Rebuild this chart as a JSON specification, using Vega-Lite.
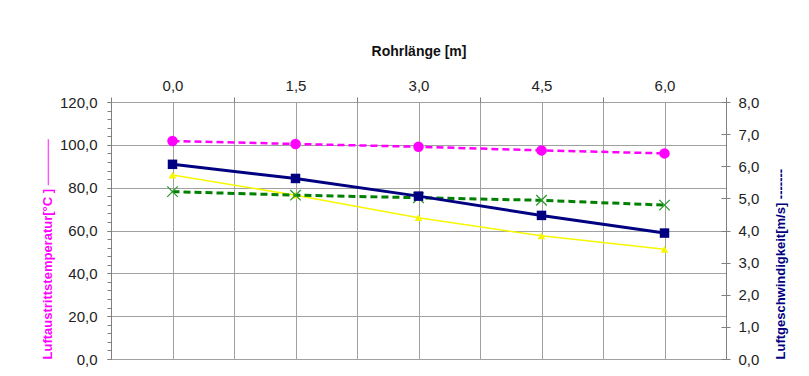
{
  "$schema": "https://vega.github.io/schema/vega-lite/v6.json",
  "autosize": {"type": "none"},
  "width": 615,
  "height": 257,
  "padding": {"left": 111, "top": 102, "right": 83, "bottom": 17},
  "background": "white",
  "config": {
    "font": "Liberation Sans",
    "view": {"stroke": null},
    "locale": {"number": {"decimal": ",", "thousands": ".", "grouping": [3], "currency": ["", " €"]}},
    "axis": {"labelFont": "Liberation Sans", "labelFontSize": 15, "labelColor": "#222222", "titleFont": "Liberation Sans", "gridColor": "#a0a0a0", "gridOpacity": 1, "domainColor": "#808080", "tickColor": "#808080"}
  },
  "datasets": {
    "yellow": [{"x": 0, "v": 85.9}, {"x": 1.5, "v": 76.5}, {"x": 3, "v": 66.0}, {"x": 4.5, "v": 57.5}, {"x": 6, "v": 51.2}],
    "green": [{"x": 0, "v": 5.21}, {"x": 1.5, "v": 5.10}, {"x": 3, "v": 5.02}, {"x": 4.5, "v": 4.94}, {"x": 6, "v": 4.79}],
    "navy": [{"x": 0, "v": 6.06}, {"x": 1.5, "v": 5.62}, {"x": 3, "v": 5.07}, {"x": 4.5, "v": 4.47}, {"x": 6, "v": 3.92}],
    "magenta": [{"x": 0, "v": 101.8}, {"x": 1.5, "v": 100.4}, {"x": 3, "v": 99.1}, {"x": 4.5, "v": 97.4}, {"x": 6, "v": 96.0}]
  },
  "resolve": {"scale": {"y": "independent"}, "axis": {"y": "independent", "x": "independent"}},
  "layer": [
    {
      "data": {"name": "yellow"},
      "mark": {"type": "line", "color": "#f7f700", "strokeWidth": 1.5, "point": {"shape": "triangle-up", "size": 60, "filled": true, "color": "#f7f700"}},
      "encoding": {
        "x": {"field": "x", "type": "quantitative", "scale": {"domain": [-0.75, 6.75], "nice": false, "zero": false},
          "axis": {"orient": "top", "values": [0, 1.5, 3, 4.5, 6], "format": ".1f", "ticks": false, "domain": false, "grid": true, "labelPadding": 9, "labelBaseline": "bottom", "title": "Rohrlänge [m]", "titleFontSize": 14, "titleFontWeight": "bold", "titleColor": "#111111", "titlePadding": 20}},
        "y": {"field": "v", "type": "quantitative", "scale": {"domain": [0, 120], "nice": false},
          "axis": {"orient": "left", "values": [0, 20, 40, 60, 80, 100, 120], "format": ".1f", "grid": true, "tickSize": 4, "labelPadding": 10, "title": "Luftaustrittstemperatur[°C ]   ─────", "titleColor": "#ff00ff", "titleFontSize": 13, "titleFontWeight": "bold", "titleAnchor": "start", "titlePadding": 5}}
      }
    },
    {
      "data": {"name": "green"},
      "mark": {"type": "line", "color": "#008000", "strokeWidth": 3, "strokeDash": [7, 4], "point": {"shape": "M-1,-1L1,1M-1,1L1,-1", "size": 110, "filled": false, "strokeWidth": 1.3, "color": "#2e9a2e"}},
      "encoding": {
        "x": {"field": "x", "type": "quantitative", "scale": {"domain": [-0.75, 6.75], "nice": false, "zero": false},
          "axis": {"orient": "top", "values": [-0.75, 0.75, 2.25, 3.75, 5.25, 6.75], "labels": false, "ticks": true, "tickSize": 5, "domain": false, "grid": true, "title": null}},
        "y": {"field": "v", "type": "quantitative", "scale": {"domain": [0, 8], "nice": false},
          "axis": {"orient": "right", "values": [0, 1, 2, 3, 4, 5, 6, 7, 8], "labels": false, "tickSize": -5, "domain": false, "grid": false, "title": null}}
      }
    },
    {
      "data": {"name": "navy"},
      "mark": {"type": "line", "color": "#000080", "strokeWidth": 3, "point": {"shape": "square", "size": 90, "filled": true, "color": "#000080"}},
      "encoding": {
        "x": {"field": "x", "type": "quantitative", "scale": {"domain": [-0.75, 6.75], "nice": false, "zero": false}, "axis": null},
        "y": {"field": "v", "type": "quantitative", "scale": {"domain": [0, 8], "nice": false},
          "axis": {"orient": "right", "values": [0, 1, 2, 3, 4, 5, 6, 7, 8], "format": ".1f", "grid": false, "tickSize": 4, "labelPadding": 8, "domain": true, "title": "Luftgeschwindigkeit[m/s]   -------", "titleColor": "#000080", "titleFontSize": 13, "titleFontWeight": "bold", "titleAngle": 270, "titleBaseline": "top", "titleAnchor": "start", "titlePadding": 16}}
      }
    },
    {
      "data": {"name": "magenta"},
      "mark": {"type": "line", "color": "#ff00ff", "strokeWidth": 2.5, "strokeDash": [7, 4], "point": {"shape": "circle", "size": 110, "filled": true, "color": "#ff00ff"}},
      "encoding": {
        "x": {"field": "x", "type": "quantitative", "scale": {"domain": [-0.75, 6.75], "nice": false, "zero": false}, "axis": null},
        "y": {"field": "v", "type": "quantitative", "scale": {"domain": [0, 120], "nice": false},
          "axis": {"orient": "left", "values": [0, 4, 8, 12, 16, 20, 24, 28, 32, 36, 40, 44, 48, 52, 56, 60, 64, 68, 72, 76, 80, 84, 88, 92, 96, 100, 104, 108, 112, 116, 120], "labels": false, "tickSize": 4, "domain": false, "grid": false, "title": null}}
      }
    }
  ]
}
